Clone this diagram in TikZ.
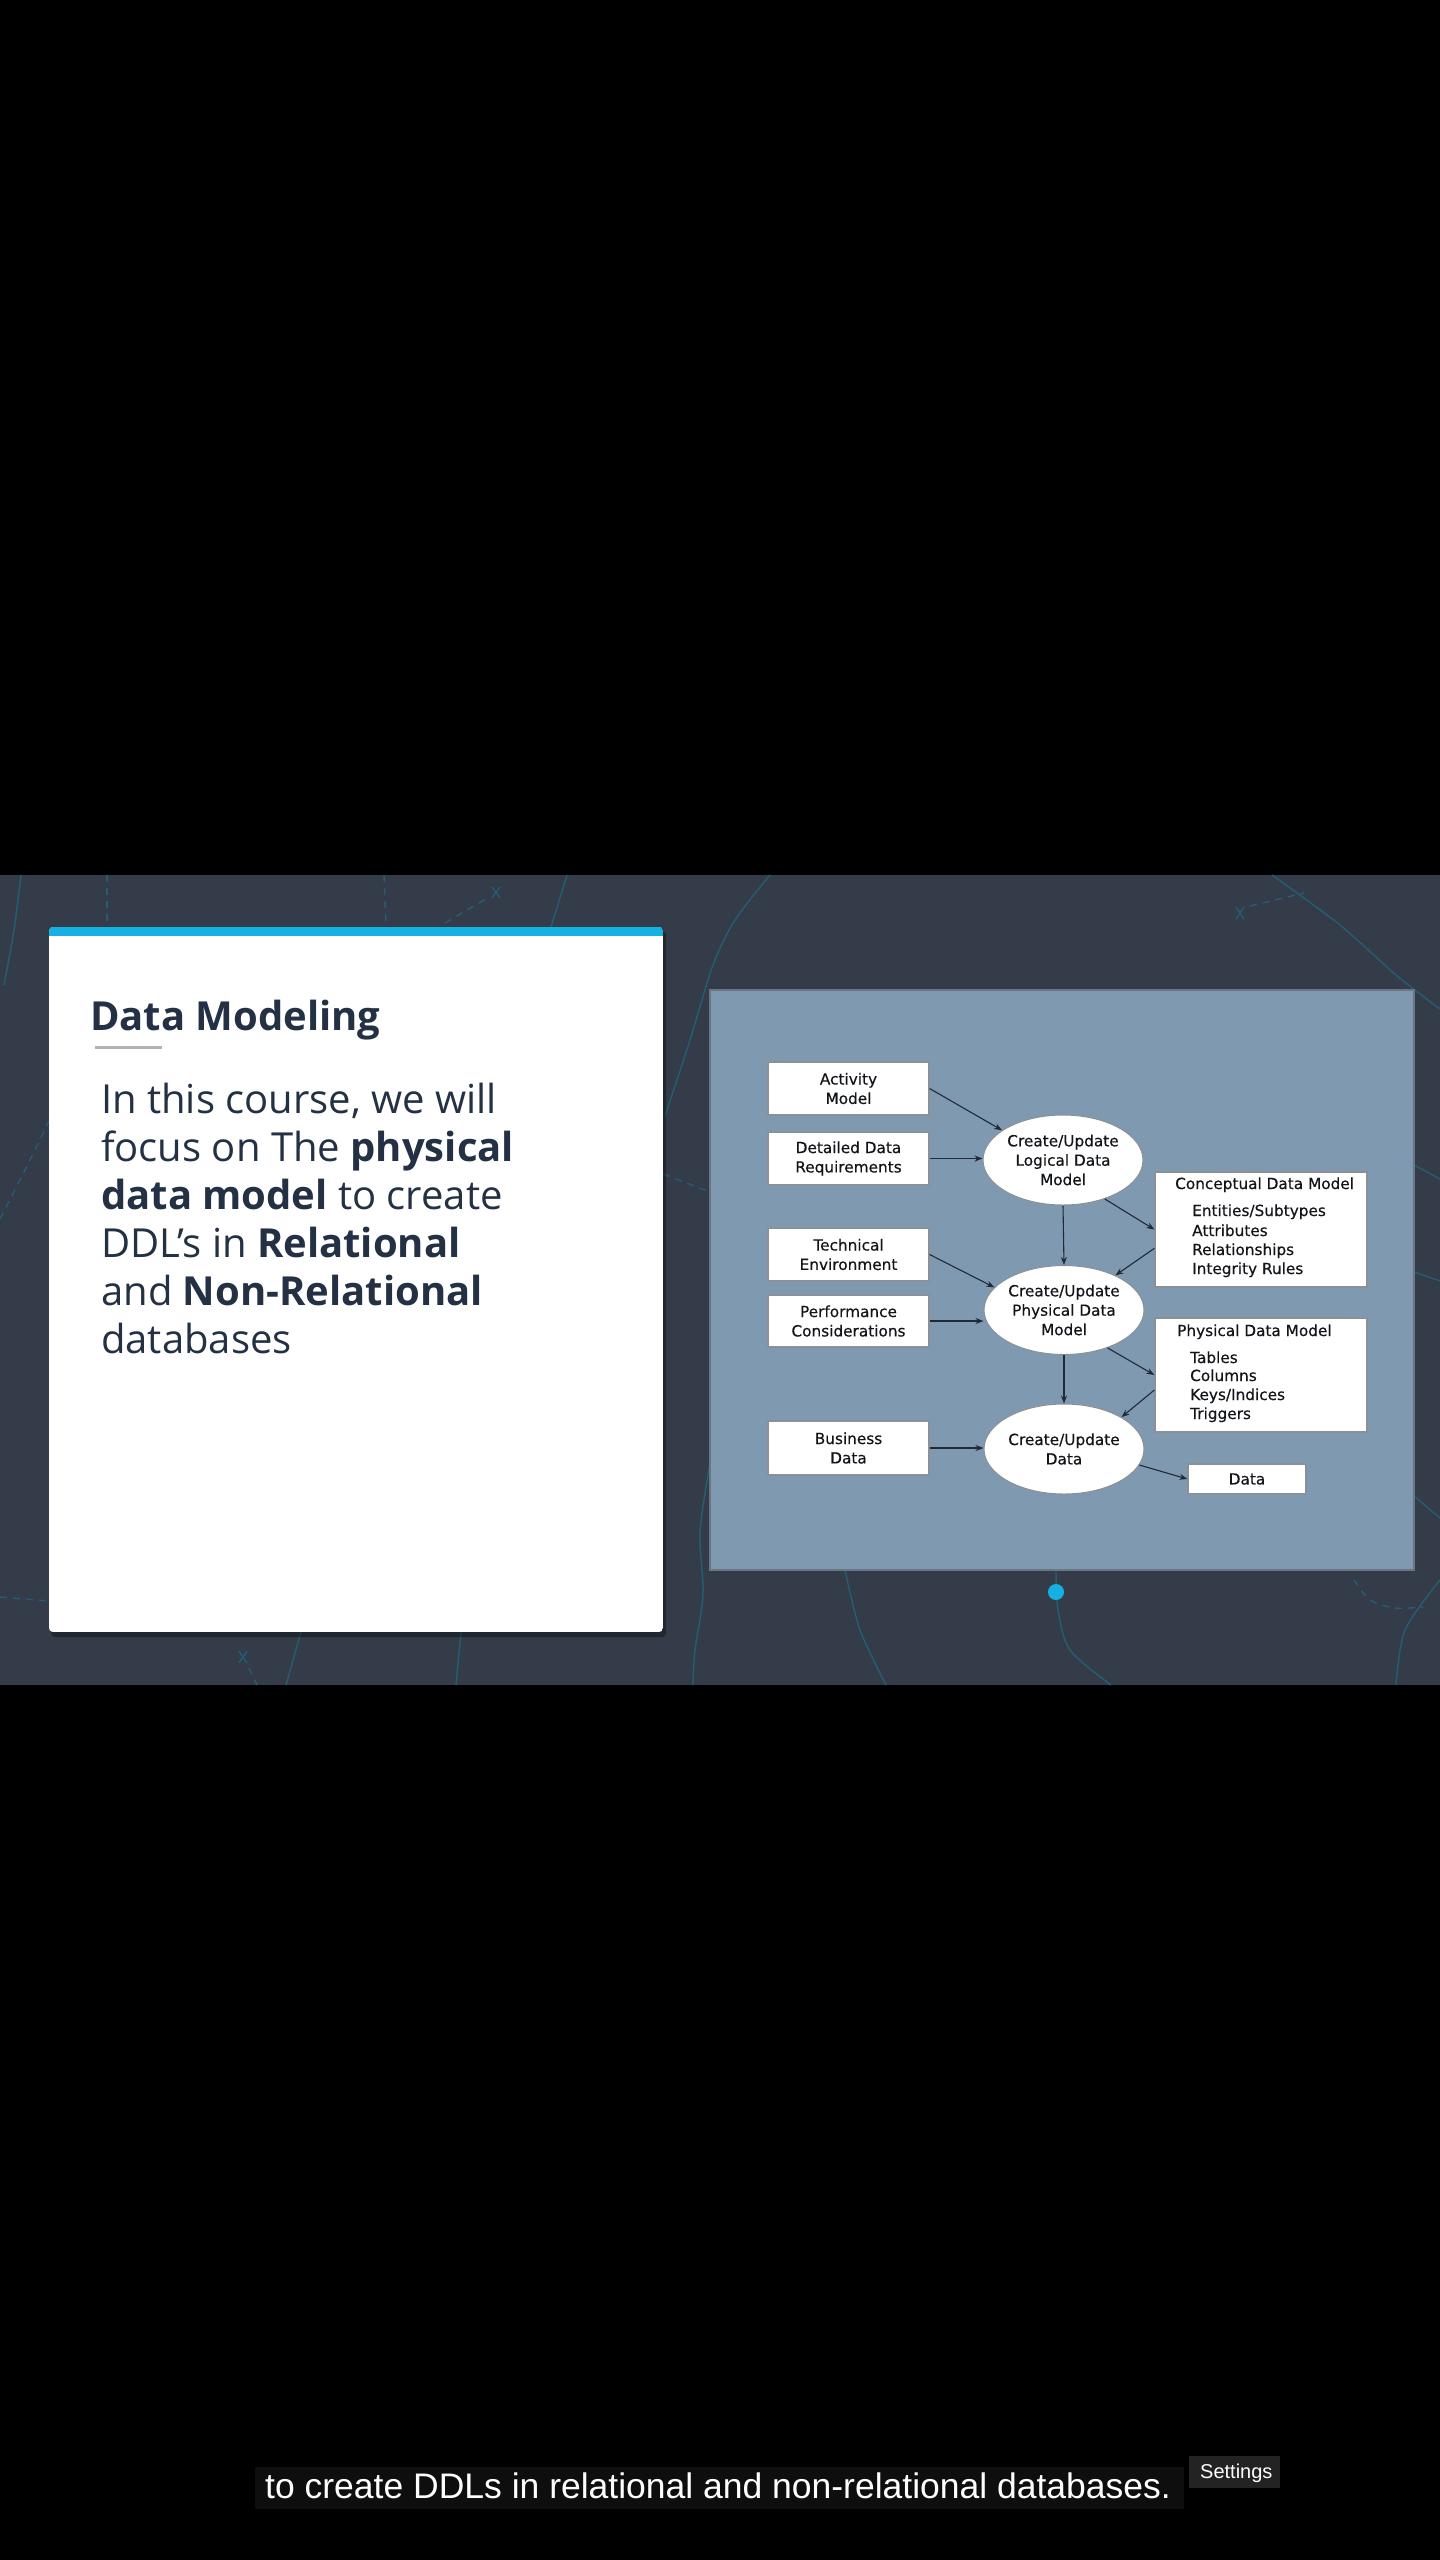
\documentclass[tikz,border=0pt]{standalone}
\usepackage{fontspec}
\usetikzlibrary{arrows.meta,shapes.geometric}
\newfontfamily\osans{Open Sans}
\newfontfamily\djs[FakeBold=0.35]{DejaVu Sans}
\newfontfamily\lsans{Liberation Sans}
\definecolor{slidebg}{HTML}{333C48}
\definecolor{decol}{HTML}{255E74}
\definecolor{cardblue}{HTML}{16B1E3}
\definecolor{titlec}{HTML}{243144}
\definecolor{panelc}{HTML}{7F99B0}
\definecolor{panelb}{HTML}{6A7684}
\definecolor{boxline}{HTML}{8A9098}
\definecolor{arrowc}{HTML}{1F2A36}
\definecolor{diatext}{HTML}{111418}
\definecolor{capbg}{HTML}{0E0E0E}
\definecolor{setbg}{HTML}{232323}
\tikzset{
  deco/.style={draw=decol, line width=1.4pt},
  decod/.style={deco, dash pattern=on 7pt off 6pt},
  dbox/.style={draw=boxline, fill=white, line width=1.2pt, rectangle, inner sep=0pt,
    align=center, text=diatext, font=\djs\fontsize{15.3}{19.4}\selectfont},
  dell/.style={draw=boxline, fill=white, line width=1pt, ellipse, inner sep=0pt,
    minimum width=160pt, minimum height=90pt, align=center, text=diatext,
    font=\djs\fontsize{15.3}{19.4}\selectfont},
  dtxt/.style={anchor=base west, inner sep=0pt, text=diatext, font=\djs\fontsize{15.3}{19.4}\selectfont},
  arr/.style={-{Stealth[length=8pt,width=6pt]}, line width=1.1pt, draw=arrowc},
  bodyline/.style={anchor=base west, inner sep=0pt, text=titlec, font=\osans\fontsize{40}{48}\selectfont},
}
\begin{document}
\begin{tikzpicture}[x=1pt,y=-1pt]
\useasboundingbox (0,0) rectangle (1440,2560);
\fill[black] (0,0) rectangle (1440,2560);
\fill[slidebg] (0,875) rectangle (1440,1685);
% decorative background lines
\draw[deco] plot[smooth] coordinates {(21,875) (14,930) (4,985)};
\draw[decod] (107,875) -- (107,925);
\draw[decod] (384,875) -- (386,927);
\draw[decod] (445,923) -- (489,897);
\draw[deco] (492,887) -- (500,898) (500,887) -- (492,898);
\draw[deco] (567,875) -- (551,927);
\draw[deco] plot[smooth] coordinates {(770,875) (735,920) (713,965) (690,1040) (665,1116)};
\draw[decod] (663,1174) -- (710,1192);
\draw[deco] plot[smooth] coordinates {(710,1464) (700,1531) (703,1594) (695,1650) (693,1685)};
\draw[deco] (1236,907) -- (1244,919) (1244,907) -- (1236,919);
\draw[decod] (1250,906) -- (1304,893);
\draw[deco] plot[smooth] coordinates {(1272,875) (1340,925) (1396,975) (1440,1009)};
\draw[deco] (1414,1165) -- (1440,1179);
\draw[deco] (1414,1272) -- (1440,1281);
\draw[deco] (1414,1496) -- (1440,1518);
\draw[decod] plot[smooth] coordinates {(0,1219) (25,1170) (49,1121)};
\draw[decod] (0,1597) -- (49,1601);
\draw[deco] (239,1651) -- (247,1663) (247,1651) -- (239,1663);
\draw[decod] (249,1668) -- (257,1685);
\draw[deco] (301,1632) -- (286,1685);
\draw[deco] (461,1632) -- (456,1685);
\draw[deco] plot[smooth] coordinates {(845,1570) (860,1630) (886,1685)};
\draw[deco] plot[smooth] coordinates {(1056,1570) (1058,1610) (1070,1650) (1111,1685)};
\draw[decod] plot[smooth] coordinates {(1354,1580) (1370,1600) (1395,1608) (1423,1607)};
\draw[deco] plot[smooth] coordinates {(1440,1580) (1405,1630) (1396,1685)};
% card
\fill[black, opacity=0.35, rounded corners=4pt] (51,931) rectangle (666,1637);
\begin{scope}
  \clip[rounded corners=4pt] (49,927) rectangle (663,1632);
  \fill[white] (49,927) rectangle (663,1632);
  \fill[cardblue] (49,927) rectangle (663,936);
\end{scope}
\node[anchor=base west, inner sep=0pt, text=titlec, font=\osans\bfseries\fontsize{40}{48}\selectfont] (title) at (90,1030) {Data Modeling};
\draw[black!30, line width=3pt] (95,1047) -- (162,1047);
\node[bodyline] (b1) at (101,1113) {In this course, we will};
\node[bodyline] (b2) at (101,1161) {focus on The \textbf{physical}};
\node[bodyline] (b3) at (101,1209) {\textbf{data model} to create};
\node[bodyline] (b4) at (101,1257) {DDL’s in \textbf{Relational}};
\node[bodyline] (b5) at (101,1305) {and \textbf{Non-Relational}};
\node[bodyline] (b6) at (101,1353) {databases};
% diagram panel
\draw[panelb, fill=panelc, line width=1.5pt] (710,990) rectangle (1414,1570);
\node[dbox, minimum width=161pt, minimum height=53pt] (act) at (848.5,1088.5) {Activity\\Model};
\node[dbox, minimum width=161pt, minimum height=53pt] (det) at (848.5,1158.5) {Detailed Data\\Requirements};
\node[dbox, minimum width=161pt, minimum height=53pt] (tech) at (848.5,1254.5) {Technical\\Environment};
\node[dbox, minimum width=161pt, minimum height=52pt] (perf) at (848.5,1321) {Performance\\Considerations};
\node[dbox, minimum width=161pt, minimum height=54pt] (bus) at (848.5,1448) {Business\\Data};
\node[dell] (ell1) at (1063,1160) {Create/Update\\Logical Data\\Model};
\node[dell, minimum height=89pt] (ell2) at (1064,1310) {Create/Update\\Physical Data\\Model};
\node[dell] (ell3) at (1064,1449) {Create/Update\\Data};
\node[dbox, minimum width=212pt, minimum height=115pt] (conc) at (1261,1229.5) {};
\node[dtxt] (conct) at (1175,1189) {Conceptual Data Model};
\node[dtxt] (conc1) at (1192,1216) {Entities/Subtypes};
\node[dtxt] (conc2) at (1192,1236) {Attributes};
\node[dtxt] (conc3) at (1192,1255) {Relationships};
\node[dtxt] (conc4) at (1192,1274) {Integrity Rules};
\node[dbox, minimum width=212pt, minimum height=114pt] (phys) at (1261,1375) {};
\node[dtxt] (physt) at (1177,1336) {Physical Data Model};
\node[dtxt] (phys1) at (1190,1363) {Tables};
\node[dtxt] (phys2) at (1190,1381) {Columns};
\node[dtxt] (phys3) at (1190,1400) {Keys/Indices};
\node[dtxt] (phys4) at (1190,1419) {Triggers};
\node[dbox, minimum width=118pt, minimum height=30pt] (datab) at (1247,1479) {Data};
% connectors
\draw[arr] (act.east) -- (ell1.154);
\draw[arr] (det.east) -- (det.east -| ell1.west);
\draw[arr] (ell1.south) -- (ell2.north);
\draw[arr] (ell1.-43) -- (conc.west);
\draw[arr] (conc.190) -- (ell2.34);
\draw[arr] (tech.east) -- (ell2.162);
\draw[arr] (perf.east) -- (perf.east -| ell2.west);
\draw[arr] (ell2.south) -- (ell3.north);
\draw[arr] (ell2.-41) -- (phys.west);
\draw[arr] (phys.188) -- (ell3.29);
\draw[arr] (bus.east) -- (bus.east -| ell3.west);
\draw[arr] (ell3.-12) -- (datab.west);
% slide indicator dot
\fill[cardblue] (1056,1592) circle (8pt);
% caption
\fill[capbg] (255,2467) rectangle (1184,2509);
\node[anchor=base west, inner sep=0pt, text=white, font=\lsans\fontsize{35.5}{40}\selectfont] (cap) at (265,2498) {to create DDLs in relational and non-relational databases.};
\fill[setbg] (1189,2456) rectangle (1280,2488);
\node[anchor=base west, inner sep=0pt, text=white, font=\lsans\fontsize{20}{24}\selectfont] (settings) at (1200,2478) {Settings};
\end{tikzpicture}
\end{document}
